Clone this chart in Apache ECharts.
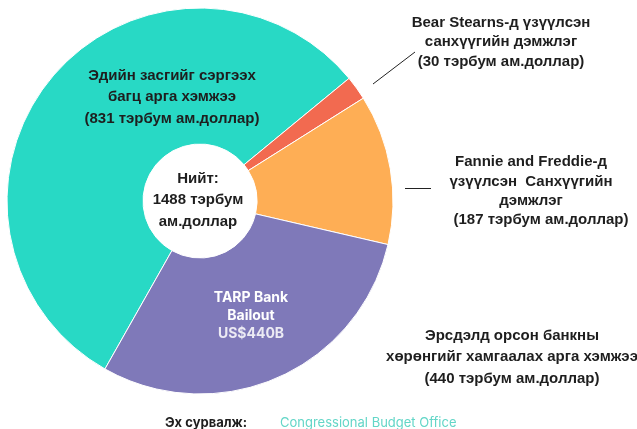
<!DOCTYPE html>
<html>
<head>
<meta charset="utf-8">
<script src="https://cdn.jsdelivr.net/npm/echarts@6/dist/echarts.min.js"></script>
<style>
html, body { margin: 0; padding: 0; background: #fff; }
#main { width: 637px; height: 429px; }
</style>
</head>
<body>
<div id="main"></div>
<script>
// slices, clockwise from the big teal one
var names = [
    'Эдийн засгийг сэргээх\nбагц арга хэмжээ',
    'Bear Stearns-д үзүүлсэн\nсанхүүгийн дэмжлэг',
    'Fannie and Freddie-д\nүзүүлсэн  Санхүүгийн\nдэмжлэг',
    'Эрсдэлд орсон банкны\nхөрөнгийг хамгаалах арга хэмжээ'
];
var values = [831, 30, 187, 440];
var colors = ['#28d9c5', '#f26a50', '#feae55', '#7f79b9'];
var unit = 'тэрбум ам.доллар';
var totalText = ['Нийт:', '1488 тэрбум', 'ам.доллар'];
var tarpLabel = ['TARP Bank', 'Bailout', 'US$440B'];
var source = ['Эх сурвалж:', 'Congressional Budget Office'];

var font = '"Liberation Sans", Arial, sans-serif';
var textColor = '#1e1e1e';

// where each label sits (center of text block) and its leader line
var spots = [[172, 97], [501, 42], [531, 191], [251, 316]];
var leaders = [null, [[373, 84], [394, 68], [415, 52]], [[405, 188.5], [418, 188.5], [431, 188.5]], null];

var myChart = echarts.init(document.getElementById('main'));

var pieData = values.map(function (v, i) {
    var text;
    if (i == 2) {
        text = names[i] + '\n{shift|(' + v + ' ' + unit + ')}';
    } else if (i == 3) {
        text = '{b|' + tarpLabel[0] + '}\n{b|' + tarpLabel[1] + '}\n{r|' + tarpLabel[2] + '}';
    } else {
        text = names[i] + '\n(' + v + ' ' + unit + ')';
    }
    var outside = (i == 1 || i == 2);
    return {
        name: names[i],
        value: v,
        itemStyle: { color: colors[i] },
        label: {
            show: true,
            position: outside ? 'outside' : 'inside',
            formatter: text,
            lineHeight: i == 0 ? 21.5 : 19.5
        },
        labelLine: { show: outside }
    };
});

var option = {
    animation: false,
    series: [{
        type: 'pie',
        center: [200, 201],
        radius: [57, 193],
        startAngle: 240.5,
        clockwise: true,
        avoidLabelOverlap: false,
        itemStyle: { borderColor: '#fff', borderWidth: 1 },
        emphasis: { disabled: true },
        label: {
            fontFamily: font,
            fontSize: 15,
            fontWeight: 'bold',
            color: textColor,
            align: 'center',
            rich: {
                shift: { fontFamily: font, fontSize: 15, fontWeight: 'bold', color: textColor, padding: [0, 0, 0, 20], lineHeight: 19 },
                b: { fontFamily: 'Inter, sans-serif', fontSize: 14, fontWeight: 'bold', color: '#fff', lineHeight: 18 },
                r: { fontFamily: 'Inter, sans-serif', fontSize: 14, color: '#ecebf4', lineHeight: 18 }
            }
        },
        labelLine: {
            lineStyle: { color: '#222', width: 1 }
        },
        labelLayout: function (p) {
            var s = spots[p.dataIndex];
            var res = { x: s[0], y: s[1], align: 'center', verticalAlign: 'middle' };
            if (leaders[p.dataIndex]) res.labelLinePoints = leaders[p.dataIndex];
            return res;
        },
        data: pieData
    }],
    graphic: [
        {
            type: 'text',
            x: 198, y: 200,
            style: {
                text: totalText.join('\n'),
                font: 'bold 15px ' + font,
                fill: textColor,
                align: 'center',
                verticalAlign: 'middle',
                lineHeight: 21.5
            }
        },
        {
            type: 'text',
            x: 512, y: 357,
            style: {
                text: names[3] + '\n(' + values[3] + ' ' + unit + ')',
                font: 'bold 15px ' + font,
                fill: textColor,
                align: 'center',
                verticalAlign: 'middle',
                lineHeight: 21.5
            }
        },
        {
            type: 'text',
            x: 165, y: 423,
            style: {
                text: source[0],
                font: 'bold 13px Inter, sans-serif',
                fill: textColor,
                verticalAlign: 'middle'
            }
        },
        {
            type: 'text',
            x: 280, y: 423,
            style: {
                text: source[1],
                font: '13px Inter, sans-serif',
                fill: '#63d6c7',
                verticalAlign: 'middle'
            }
        }
    ]
};
myChart.setOption(option);
</script>
</body>
</html>
